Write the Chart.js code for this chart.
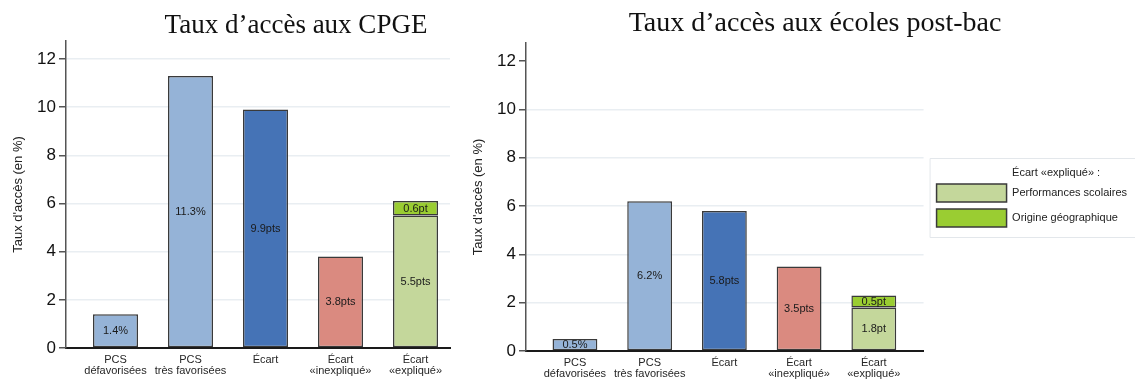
<!DOCTYPE html>
<html lang="fr">
<head>
<meta charset="utf-8">
<title>Taux d'accès aux CPGE et aux écoles post-bac</title>
<script src="https://cdn.jsdelivr.net/npm/chart.js@4.4.1/dist/chart.umd.min.js"></script>
<style>
  html, body { margin: 0; padding: 0; background: #fff; }
  body { width: 1135px; height: 380px; position: relative; overflow: hidden; }
  .panel { position: absolute; top: 0; height: 380px; }
  #left { left: 0; width: 460px; }
  #right { left: 460px; width: 675px; }
</style>
</head>
<body>
<div class="panel" id="left"><canvas id="cpge" width="460" height="380"></canvas></div>
<div class="panel" id="right"><canvas id="postbac" width="675" height="380"></canvas></div>
<script>
// ============================================
// Data
// ============================================
const categories = [
  ['PCS', 'défavorisées'],
  ['PCS', 'très favorisées'],
  'Écart',
  ['Écart', '«inexpliqué»'],
  ['Écart', '«expliqué»']
];
const yTicks = [0, 2, 4, 6, 8, 10, 12];

// CPGE
const cpgeGroups = [1.4, 11.3, 9.9, 3.8, null];
const cpgePerf = [null, null, null, null, 5.5];
const cpgeGeo = [null, null, null, null, 0.6];
const cpgeUnits = ['%', '%', 'pts', 'pts', 'pts'];

// Écoles post-bac
const postbacGroups = [0.5, 6.2, 5.8, 3.5, null];
const postbacPerf = [null, null, null, null, 1.8];
const postbacGeo = [null, null, null, null, 0.5];
const postbacUnits = ['%', '%', 'pts', 'pts', 'pt'];

const geoUnit = 'pt';
const legendHeader = 'Écart «expliqué» :';
const perfLabel = 'Performances scolaires';
const geoLabel = 'Origine géographique';

// ============================================
// Styles
// ============================================
const SANS = '"Liberation Sans", Arial, Helvetica, sans-serif';
const SERIF = '"Liberation Serif", "Times New Roman", serif';
const groupColors = ['#95b3d7', '#95b3d7', '#4573b6', '#da8a80', '#c4d79b'];
const perfColor = '#c4d79b';
const geoColor = '#9acd32';
const barBorder = '#3a3a3a';
const gridColor = '#e9eef2';

const toPoints = (arr) => arr
  .map((y, i) => ({ x: i, y }))
  .filter(p => p.y !== null);

// ============================================
// Plugins
// ============================================
const panelTitle = {
  id: 'panelTitle',
  afterDraw(chart, args, opts) {
    const ctx = chart.ctx;
    ctx.save();
    ctx.font = opts.size + 'px ' + SERIF;
    ctx.fillStyle = '#111';
    ctx.textAlign = 'center';
    ctx.textBaseline = 'alphabetic';
    ctx.fillText(opts.text, chart.chartArea.left + opts.offset, opts.baseline);
    ctx.restore();
  }
};

const barValues = {
  id: 'barValues',
  afterDatasetsDraw(chart) {
    const ctx = chart.ctx;
    ctx.save();
    ctx.font = '11px ' + SANS;
    ctx.fillStyle = '#1a1a1a';
    ctx.textAlign = 'center';
    ctx.textBaseline = 'middle';
    chart.data.datasets.forEach((ds, di) => {
      if (!ds.units) return;
      const meta = chart.getDatasetMeta(di);
      meta.data.forEach((bar, i) => {
        const p = ds.data[i];
        ctx.fillText(p.y.toFixed(1) + ds.units[p.x], bar.x, (bar.y + bar.base) / 2 + 0.5);
      });
    });
    ctx.restore();
  }
};

// nudge the legend a bit away from the plot, then frame it
const legendFrame = {
  id: 'legendFrame',
  afterLayout(chart, args, opts) {
    const lg = chart.legend;
    if (!lg || !lg.options.display) return;
    lg.left += opts.dx; lg.right += opts.dx;
    lg.top += opts.dy; lg.bottom += opts.dy;
  },
  afterDraw(chart) {
    const lg = chart.legend;
    if (!lg || !lg.options.display || !lg.legendHitBoxes.length) return;
    const boxes = lg.legendHitBoxes;
    const first = boxes[0];
    const last = boxes[boxes.length - 1];
    const top = Math.round(first.top - 5.5) + 0.5;
    const bottom = Math.round(last.top + last.height + 9.5) + 0.5;
    const left = lg.left + 0.5;
    const ctx = chart.ctx;
    ctx.save();
    ctx.strokeStyle = '#e3e7eb';
    ctx.lineWidth = 1;
    ctx.beginPath();
    ctx.moveTo(chart.width + 2, top);
    ctx.lineTo(left, top);
    ctx.lineTo(left, bottom);
    ctx.lineTo(chart.width + 2, bottom);
    ctx.stroke();
    ctx.restore();
  }
};

// ============================================
// Chart builder
// ============================================
const buildChart = (canvasId, cfg) => {
  const datasets = [
    {
      label: 'Groupes',
      data: toPoints(cfg.groups),
      backgroundColor: groupColors,
      units: cfg.units
    },
    {
      label: [legendHeader],
      data: [],
      backgroundColor: 'rgba(0,0,0,0)',
      borderColor: 'rgba(0,0,0,0)',
      borderWidth: 0
    },
    {
      label: perfLabel,
      data: toPoints(cfg.perf),
      backgroundColor: perfColor,
      units: cfg.units
    },
    {
      label: geoLabel,
      data: toPoints(cfg.geo),
      backgroundColor: geoColor,
      units: cfg.units.map(() => geoUnit)
    }
  ];
  datasets.forEach((ds, i) => {
    if (i === 1) return;
    ds.borderColor = barBorder;
    ds.borderWidth = 1.5;
    ds.borderSkipped = false;
    ds.barPercentage = 1;
    ds.categoryPercentage = 0.6;
  });

  return new Chart(document.getElementById(canvasId), {
    type: 'bar',
    data: { datasets },
    plugins: [panelTitle, barValues, legendFrame],
    options: {
      responsive: false,
      animation: false,
      layout: { padding: cfg.padding },
      plugins: {
        tooltip: { enabled: false },
        panelTitle: cfg.title,
        legendFrame: { dx: 6, dy: -1.5 },
        legend: {
          display: cfg.legend,
          position: 'right',
          fullSize: false,
          align: 'center',
          maxWidth: 300,
          labels: {
            filter: (item) => item.datasetIndex > 0,
            boxWidth: 70,
            boxHeight: 18,
            padding: 7,
            color: '#222',
            font: { size: 11, family: SANS }
          }
        }
      },
      scales: {
        x: {
          type: 'linear',
          stacked: true,
          offset: false,
          bounds: 'data',
          min: cfg.xMin,
          max: cfg.xMax,
          afterBuildTicks: (s) => { s.ticks = categories.map((_, i) => ({ value: i })); },
          ticks: {
            callback: (v) => categories[v],
            autoSkip: false,
            maxRotation: 0,
            padding: 6,
            color: '#262626',
            font: { size: 11, family: SANS, lineHeight: 1 }
          },
          grid: { display: false, drawTicks: false, offset: false },
          border: { display: true, color: '#1a1a1a', width: 2 },
          afterFit: (s) => { s.height = cfg.xHeight; }
        },
        y: {
          stacked: true,
          min: 0,
          max: 12.75,
          afterBuildTicks: (s) => { s.ticks = yTicks.map(v => ({ value: v })); },
          ticks: {
            padding: 3,
            color: '#111',
            font: { size: 17, family: SANS }
          },
          grid: {
            color: (c) => (cfg.hideTopGrid && c.tick && c.tick.value === 12) ? 'rgba(0,0,0,0)' : gridColor,
            lineWidth: 1.5,
            tickLength: 7,
            tickColor: '#555',
            tickWidth: 1.5
          },
          border: { color: '#555', width: 1.5 },
          title: {
            display: true,
            text: "Taux d'accès (en %)",
            color: '#222',
            font: { size: 13, family: SANS },
            padding: { top: 11, bottom: 0 }
          },
          afterFit: (s) => { s.width = 66; }
        }
      }
    }
  });
};

buildChart('cpge', {
  groups: cpgeGroups,
  perf: cpgePerf,
  geo: cpgeGeo,
  units: cpgeUnits,
  padding: { top: 41, right: 10, left: 0, bottom: 0 },
  xMin: -0.66,
  xMax: 4.46,
  xHeight: 32,
  legend: false,
  hideTopGrid: false,
  title: { text: 'Taux d’accès aux CPGE', size: 27, offset: 230, baseline: 33 }
});

buildChart('postbac', {
  groups: postbacGroups,
  perf: postbacPerf,
  geo: postbacGeo,
  units: postbacUnits,
  padding: { top: 43, right: 4, left: 0, bottom: 0 },
  xMin: -0.655,
  xMax: 4.666,
  xHeight: 29,
  legend: true,
  hideTopGrid: true,
  title: { text: 'Taux d’accès aux écoles post-bac', size: 28, offset: 289, baseline: 31 }
});
</script>
</body>
</html>
